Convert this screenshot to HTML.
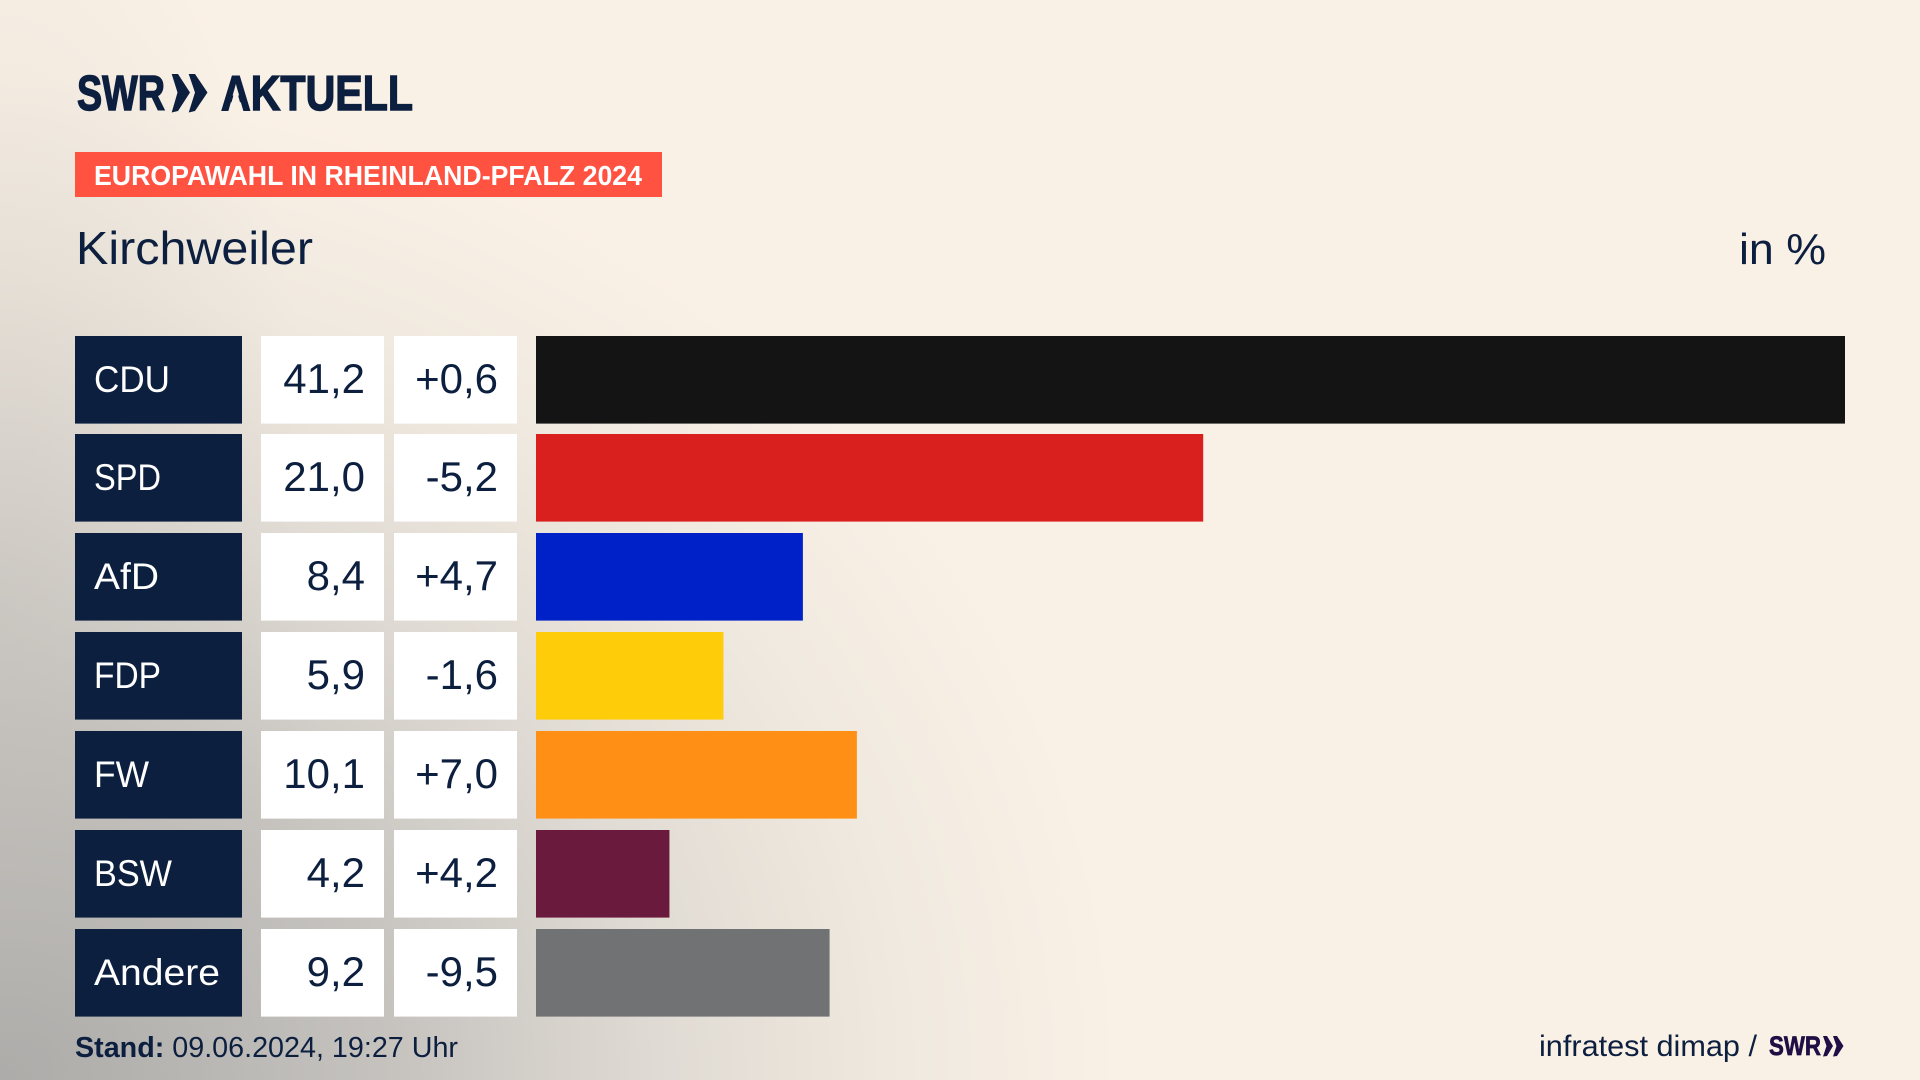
<!DOCTYPE html>
<html lang="de">
<head>
<meta charset="utf-8">
<title>Europawahl in Rheinland-Pfalz 2024 – Kirchweiler</title>
<style>
html,body{margin:0;padding:0;width:1920px;height:1080px;overflow:hidden;background:#faf1e6}
#bg{position:absolute;left:0;top:0;width:1920px;height:1080px;background:
radial-gradient(ellipse 320px 800px at 0px 620px,rgba(190,186,181,.42) 0%,rgba(190,186,181,.2) 45%,rgba(190,186,181,0) 100%),
radial-gradient(ellipse 1130px 1000px at 0px 1080px,#aaa9a7 0%,#c6c3bf 35%,#dfdad3 58%,#f0e9df 80%,#faf1e6 100%)}
svg{position:absolute;left:0;top:0}
text{font-family:"Liberation Sans",sans-serif}
</style>
</head>
<body>
<div id="bg"></div>
<svg id="chart" width="1920" height="1080" viewBox="0 0 1920 1080" xmlns="http://www.w3.org/2000/svg">
  <g fill="#0c1f3f" stroke="#0c1f3f">
    <text x="77" y="110" font-size="49" font-weight="700" stroke-width="1.4" textLength="88" lengthAdjust="spacingAndGlyphs">SWR</text>
    <polygon stroke="none" points="171.7,74 178,74 190,92.5 178,111 171.7,112.5 177.5,92.5"/>
    <polygon stroke="none" points="188.7,74 195,74 207.5,92.5 195,111 188.7,112.5 195,92.5"/>
    <text x="221" y="110" font-size="49" font-weight="700" stroke-width="1.4" textLength="192" lengthAdjust="spacingAndGlyphs">AKTUELL</text>
    <polygon stroke="none" fill="#f8f0e6" points="235.8,87 230.5,106 241,106"/>
  </g>
  <rect x="75" y="152" width="587" height="45" fill="#ff5240"/>
  <text x="94" y="185" font-size="28" font-weight="700" fill="#ffffff" textLength="548" lengthAdjust="spacingAndGlyphs">EUROPAWAHL IN RHEINLAND-PFALZ 2024</text>
  <text x="76" y="264" font-size="46" fill="#0c1f3f" textLength="237" lengthAdjust="spacingAndGlyphs">Kirchweiler</text>
  <text x="1739" y="264" font-size="44" fill="#0c1f3f" textLength="87" lengthAdjust="spacingAndGlyphs">in %</text>
  <g id="rows"></g>
  <text x="75" y="1057" font-size="29" fill="#0c1f3f" textLength="383" lengthAdjust="spacingAndGlyphs"><tspan font-weight="700">Stand:</tspan> 09.06.2024, 19:27 Uhr</text>
  <text x="1539" y="1056" font-size="30" fill="#0c1f3f" textLength="218" lengthAdjust="spacingAndGlyphs">infratest dimap /</text>
  <g fill="#1f0f45">
    <text x="1769" y="1055" font-size="27" font-weight="700" stroke="#1f0f45" stroke-width="0.7" textLength="52" lengthAdjust="spacingAndGlyphs">SWR</text>
    <polygon points="1823,1036 1827,1036 1833,1046 1827,1056 1823,1056.5 1826.5,1046"/>
    <polygon points="1833,1036 1837,1036 1843.5,1046 1837,1056 1833,1056.5 1836.5,1046"/>
  </g>
</svg>
<script>
const parties = ["CDU", "SPD", "AfD", "FDP", "FW", "BSW", "Andere"];
const shares = [41.2, 21.0, 8.4, 5.9, 10.1, 4.2, 9.24];
const changes = [0.6, -5.2, 4.7, -1.6, 7.0, 4.2, -9.5];

const partyColors = {CDU:"#141414", SPD:"#d9201e", AfD:"#0021c8", FDP:"#ffcc0a", FW:"#ff9015", BSW:"#6a1a3c", Andere:"#717273"};
const labelFit = {CDU:76, SPD:67, AfD:65, FDP:67, FW:55, BSW:78, Andere:126};
const NS = "http://www.w3.org/2000/svg";
const rowsGroup = document.getElementById("rows");
const ink = "#0c1f3f";
const rowTop = 336, rowPitch = 98.84, rowHeight = 87.6;
const barStart = 536, barFullWidth = 1309, domainMax = Math.max.apply(null, shares);

function xScale(v) { return v / domainMax * barFullWidth; }
function yScale(i) { return Math.floor(rowTop + i * rowPitch); }
function fmt(v) { return v.toFixed(1).replace(".", ","); }
function fmtChange(v) { return (v > 0 ? "+" : "") + fmt(v); }
function make(tag, attrs, parent) {
  const el = document.createElementNS(NS, tag);
  for (const k in attrs) el.setAttribute(k, attrs[k]);
  parent.appendChild(el);
  return el;
}

parties.forEach(function (party, i) {
  const y = yScale(i);
  const key = party.toLowerCase();
  const row = make("g", {}, rowsGroup);
  
  

  const labelBox = make("rect", {x: 75, y: y, width: 167, height: rowHeight, fill: ink}, row);
  
  
  const label = make("text", {x: 94, y: y + 56, "font-size": 37, fill: "#ffffff", textLength: labelFit[party], lengthAdjust: "spacingAndGlyphs"}, row);
  
  
  label.textContent = party;

  const shareBox = make("rect", {x: 261, y: y, width: 123, height: rowHeight, fill: "#ffffff"}, row);
  
  
  const share = make("text", {x: 365, y: y + 57, "font-size": 42, fill: ink, "text-anchor": "end"}, row);
  
  
  share.textContent = fmt(shares[i]);

  const changeBox = make("rect", {x: 394, y: y, width: 123, height: rowHeight, fill: "#ffffff"}, row);
  
  
  const change = make("text", {x: 498, y: y + 57, "font-size": 42, fill: ink, "text-anchor": "end"}, row);
  
  
  change.textContent = fmtChange(changes[i]);

  const bar = make("rect", {x: barStart, y: y, width: xScale(shares[i]), height: rowHeight, fill: partyColors[party]}, row);
  
  
});
</script>
</body>
</html>
